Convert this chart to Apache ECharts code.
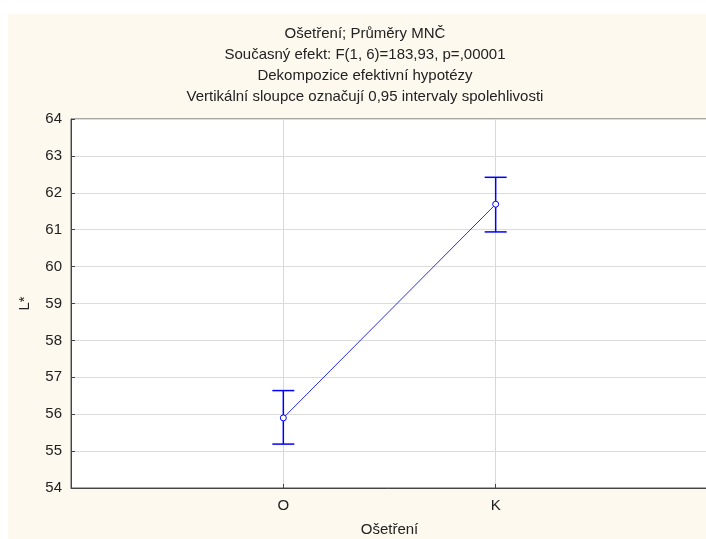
<!DOCTYPE html>
<html>
<head>
<meta charset="utf-8">
<script src="https://cdn.jsdelivr.net/npm/echarts@6/dist/echarts.min.js"></script>
<style>
  html, body { margin: 0; padding: 0; background: #fff; }
  #wrap { position: relative; width: 706px; height: 539px; }
  #panel { position: absolute; left: 8px; top: 14px; right: 0; bottom: 0; background: #fdf9ef; }
  #main { position: absolute; left: 0; top: 0; width: 706px; height: 539px; }
</style>
</head>
<body>
<div id="wrap">
  <div id="panel"></div>
  <div id="main"></div>
</div>
<script>
// data
const groups = ['O', 'K'];
const means = [55.9, 61.69];
const lower = [55.19, 60.94];
const upper = [56.64, 62.42];
const yTicks = [54, 55, 56, 57, 58, 59, 60, 61, 62, 63, 64];

const font = 'Liberation Sans, Arial, sans-serif';
const blue = '#0000ff';

var myChart = echarts.init(document.getElementById('main'));

const pts = groups.map((g, i) => [i + 1, means[i]]);
const bars = groups.map((g, i) => [i + 1, lower[i], upper[i]]);

const option = {
    backgroundColor: 'transparent',
    animation: false,
    title: {
        text: 'Ošetření; Průměry MNČ\nSoučasný efekt: F(1, 6)=183,93, p=,00001\nDekompozice efektivní hypotézy\nVertikální sloupce označují 0,95 intervaly spolehlivosti',
        left: 360,
        top: 18,
        textAlign: 'center',
        textStyle: {
            fontFamily: font,
            fontSize: 15,
            fontWeight: 'normal',
            color: '#222',
            lineHeight: 21
        }
    },
    grid: {
        left: 71,
        right: -2,
        top: 119,
        bottom: 51,
        outerBoundsMode: 'none',
        show: true,
        backgroundColor: '#fff',
        borderColor: '#555',
        borderWidth: 1
    },
    xAxis: {
        type: 'value',
        min: 0,
        max: 3,
        interval: 1,
        name: 'Ošetření',
        nameLocation: 'middle',
        nameGap: 34,
        nameTextStyle: { fontFamily: font, fontSize: 15, color: '#222' },
        axisLine: { lineStyle: { color: '#444' } },
        axisTick: {
            inside: true,
            length: 4,
            lineStyle: { color: '#444' },
            customValues: [1, 2]
        },
        axisLabel: {
            margin: 10,
            fontFamily: font,
            fontSize: 15,
            color: '#222',
            customValues: [1, 2],
            formatter: v => groups[v - 1] || ''
        },
        splitLine: { lineStyle: { color: '#d8d8d8' } }
    },
    yAxis: {
        type: 'value',
        min: yTicks[0],
        max: yTicks[yTicks.length - 1],
        interval: 1,
        name: 'L*',
        nameLocation: 'middle',
        nameGap: 39,
        nameTextStyle: { fontFamily: font, fontSize: 15, color: '#222' },
        axisLine: { show: true, lineStyle: { color: '#444' } },
        axisTick: { show: true, inside: true, length: 4, lineStyle: { color: '#444' } },
        axisLabel: { margin: 9, fontFamily: font, fontSize: 15, color: '#222' },
        splitLine: { lineStyle: { color: '#dcdcdc' } }
    },
    series: [
        {
            type: 'line',
            data: pts,
            symbol: 'circle',
            symbolSize: 6,
            showSymbol: true,
            itemStyle: { color: '#fff', borderColor: blue, borderWidth: 1 },
            lineStyle: { color: '#2a2aff', width: 1 },
            z: 3
        },
        {
            type: 'custom',
            data: bars,
            z: 2,
            renderItem: function (params, api) {
                const x = api.value(0);
                const lo = api.coord([x, api.value(1)]);
                const hi = api.coord([x, api.value(2)]);
                const w = 11;
                const st = { stroke: blue, lineWidth: 1.5 };
                return {
                    type: 'group',
                    children: [
                        { type: 'line', shape: { x1: lo[0], y1: lo[1], x2: hi[0], y2: hi[1] }, style: st },
                        { type: 'line', shape: { x1: lo[0] - w, y1: lo[1], x2: lo[0] + w, y2: lo[1] }, style: st },
                        { type: 'line', shape: { x1: hi[0] - w, y1: hi[1], x2: hi[0] + w, y2: hi[1] }, style: st }
                    ]
                };
            }
        }
    ]
};

myChart.setOption(option);
</script>
</body>
</html>
